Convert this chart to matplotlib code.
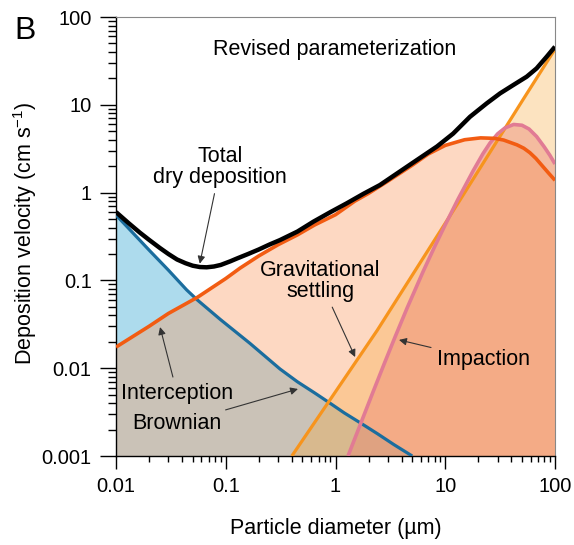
import numpy as np
import matplotlib
matplotlib.use("Agg")
import matplotlib.pyplot as plt
from matplotlib.ticker import NullFormatter

plt.rcParams['font.family'] = ['Liberation Sans', 'DejaVu Sans']

# values (particle diameter in um, velocity in cm/s)
total_x = [0.01, 0.013, 0.0165, 0.02, 0.025, 0.03, 0.036, 0.043, 0.05, 0.058, 0.067, 0.078,
           0.09, 0.11, 0.127, 0.16, 0.2, 0.25, 0.312, 0.45, 0.628, 0.9, 1.265, 1.8, 2.54,
           3.5, 5.1, 8.4, 11.8, 16.8, 23.9, 31.6, 41.7, 55.2, 68, 84, 100]
total_y = [0.60, 0.45, 0.35, 0.29, 0.235, 0.2, 0.173, 0.157, 0.147, 0.142, 0.141, 0.144,
           0.15, 0.165, 0.178, 0.2, 0.225, 0.256, 0.288, 0.36, 0.466, 0.6, 0.755, 0.97, 1.22,
           1.6, 2.2, 3.35, 4.7, 7.3, 10.4, 13.5, 16.8, 20.9, 26, 35.3, 45.9]

brown_x = [0.01, 0.0204, 0.03, 0.044, 0.055, 0.089, 0.166, 0.312, 0.45, 0.65, 0.89, 1.2,
           1.67, 2.4, 3.4, 5.0]
brown_y = [0.556, 0.216, 0.131, 0.078, 0.060, 0.036, 0.0192, 0.0098, 0.0070, 0.0052,
           0.0040, 0.0031, 0.0024, 0.0018, 0.00135, 0.001]

inter_x = [0.01, 0.02, 0.03, 0.055, 0.1, 0.135, 0.2, 0.3, 0.45, 0.65, 1, 1.5, 2, 3, 5, 7,
           10, 15, 21, 28, 34, 45, 52, 59, 67, 75, 87, 100]
inter_y = [0.0174, 0.030, 0.042, 0.064, 0.105, 0.138, 0.19, 0.255, 0.33, 0.43, 0.56, 0.8,
           0.98, 1.35, 2.05, 2.75, 3.45, 4.0, 4.2, 4.15, 3.97, 3.5, 3.2, 2.85, 2.45, 2.08,
           1.68, 1.38]

grav_x = [0.4, 2.4, 13.6, 51, 100]
grav_y = [0.001, 0.027, 0.82, 11.4, 43]

imp_x = [1.3, 1.7, 2.2, 2.8, 3.5, 4.5, 6.3, 8, 10, 13, 18, 22, 25.6, 30, 35, 42, 50,
         58, 68, 80, 90, 100]
imp_y = [0.001, 0.00236, 0.00538, 0.0115, 0.0229, 0.0487, 0.127, 0.242, 0.43, 0.83, 1.78,
         2.76, 3.68, 4.67, 5.45, 5.97, 5.85, 5.3, 4.35, 3.3, 2.65, 2.12]

xticks = [0.01, 0.1, 1, 10, 100]
xlabels = ['0.01', '0.1', '1', '10', '100']
yticks = [0.001, 0.01, 0.1, 1, 10, 100]
ylabels = ['0.001', '0.01', '0.1', '1', '10', '100']

fig = plt.figure(figsize=(5.74, 5.45), dpi=100)
ax = fig.add_axes([0.2021, 0.1633, 0.7648, 0.8055])
ax.set_xscale('log')
ax.set_yscale('log')
ax.set_xlim(0.01, 100)
ax.set_ylim(0.001, 100)

base = 0.001
ax.fill_between(brown_x, brown_y, base, color='#5db9dd', alpha=0.5, lw=0, zorder=1)
ax.fill_between(inter_x, inter_y, base, color='#fa9b62', alpha=0.39, lw=0, zorder=1)
ax.fill_between(grav_x, grav_y, base, color='#f8a534', alpha=0.31, lw=0, zorder=1)
ax.fill_between(imp_x, imp_y, base, color='#ea806e', alpha=0.4, lw=0, zorder=1)

ax.plot(brown_x, brown_y, color='#1b6d9e', lw=2.3, zorder=3, solid_capstyle='butt')
ax.plot(grav_x, grav_y, color='#f7941d', lw=2.3, zorder=3, solid_capstyle='butt')
ax.plot(imp_x, imp_y, color='#e17b94', lw=2.6, zorder=3, solid_capstyle='butt')
ax.plot(inter_x, inter_y, color='#f25c12', lw=2.6, zorder=4, solid_capstyle='butt')
ax.plot(total_x, total_y, color='black', lw=3.2, zorder=5, solid_capstyle='butt')

ax.set_xticks(xticks, xlabels)
ax.set_yticks(yticks, ylabels)
ax.xaxis.set_minor_formatter(NullFormatter())
ax.yaxis.set_minor_formatter(NullFormatter())
ax.tick_params(axis='both', which='both', direction='out', labelsize=14.5, width=1.0)
ax.tick_params(axis='y', which='major', length=11.5, pad=6)
ax.tick_params(axis='y', which='minor', length=5.5)
ax.tick_params(axis='x', which='major', length=9, pad=6)
ax.tick_params(axis='x', which='minor', length=4.5)
for s in ['top', 'right']:
    ax.spines[s].set_color('#888888')
    ax.spines[s].set_linewidth(0.8)
for s in ['left', 'bottom']:
    ax.spines[s].set_linewidth(1.0)

ax.set_xlabel('Particle diameter (µm)', fontsize=15.5)
ax.set_ylabel('Deposition velocity (cm s$^{\\mathregular{-1}}$)', fontsize=15.5)
ax.xaxis.set_label_coords(0.5, -0.142)
ax.yaxis.set_label_coords(-0.175, 0.508)

fig.text(0.043, 0.943, 'B', fontsize=23, ha='center', va='center')
ax.text(0.499, 0.925, 'Revised parameterization', transform=ax.transAxes,
        fontsize=15.5, ha='center', va='center')

arrow = dict(arrowstyle='-|>', color='#333333', lw=0.8, mutation_scale=11,
             shrinkA=2, shrinkB=0)
labels = [
    ('Total\ndry deposition', (0.058, 0.155), (0.237, 0.658)),
    ('Gravitational\nsettling', (1.51, 0.0134), (0.465, 0.399)),
    ('Impaction', (3.79, 0.021), (0.836, 0.219)),
    ('Interception', (0.0252, 0.0294), (0.139, 0.1435)),
    ('Brownian', (0.455, 0.0058), (0.139, 0.073)),
]
for txt, tip, pos in labels:
    ax.annotate(txt, xy=tip, xycoords='data', xytext=pos, textcoords='axes fraction',
                fontsize=15.5, ha='center', va='center', linespacing=1.0,
                arrowprops=arrow, zorder=6)

fig.savefig('out.png', dpi=100)
